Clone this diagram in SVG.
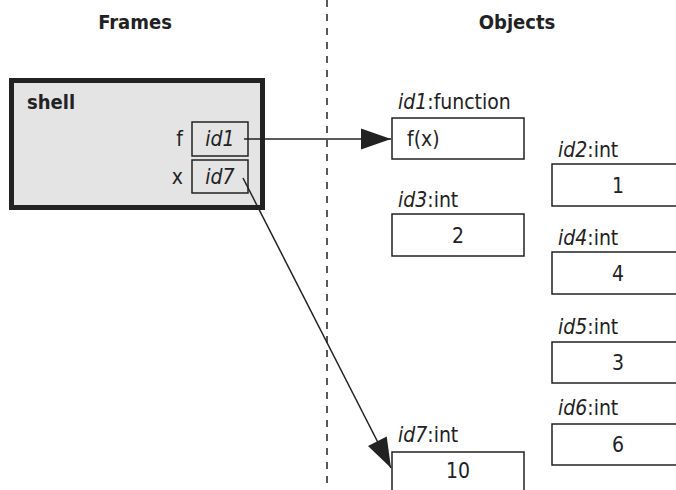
<svg xmlns="http://www.w3.org/2000/svg" width="676" height="490" viewBox="0 0 676 490">
<defs>
<style>
text{font-family:"DejaVu Sans Condensed","DejaVu Sans","Liberation Sans",sans-serif;font-stretch:condensed;font-size:21px;fill:#222}
.b{font-weight:bold;font-size:20px}
.i{font-style:italic}
.m{text-anchor:middle}
.e{text-anchor:end}
.box{fill:#fff;stroke:#222;stroke-width:1.5}
.sbox{fill:none;stroke:#222;stroke-width:1.5}
.con{stroke:#222;stroke-width:1.5;fill:none;marker-end:url(#ah)}
</style>
<marker id="ah" markerUnits="userSpaceOnUse" markerWidth="30" markerHeight="22" refX="30" refY="10.5" orient="auto" overflow="visible">
<path d="M0,0 L30,10.5 L0,21 z" fill="#222"/>
</marker>
</defs>
<rect width="676" height="490" fill="#fff"/>
<text class="b m" x="135" y="29">Frames</text>
<text class="b m" x="517" y="29">Objects</text>
<line x1="327" y1="0" x2="327" y2="490" stroke="#222" stroke-width="1.5" stroke-dasharray="7 7"/>
<g id="shell">
<rect x="11.5" y="80.5" width="251" height="127" fill="#e4e4e4" stroke="#222" stroke-width="5"/>
<text class="b" x="27" y="109">shell</text>
<text class="e" x="183" y="146">f</text>
<rect class="sbox" x="192" y="122" width="56" height="34"/>
<text class="i m" x="220" y="146">id1</text>
<text class="e" x="183" y="184">x</text>
<rect class="sbox" x="192" y="160" width="56" height="33"/>
<text class="i m" x="220" y="184">id7</text>
</g>
<g id="id1">
<text x="398" y="109"><tspan class="i">id1</tspan>:function</text>
<rect class="box" x="392" y="118" width="132" height="41"/>
<text x="407" y="146">f(x)</text>
</g>
<g id="id2">
<text x="558" y="157"><tspan class="i">id2</tspan>:int</text>
<rect class="box" x="552" y="164" width="132" height="42"/>
<text class="m" x="618" y="193">1</text>
</g>
<g id="id3">
<text x="398" y="207"><tspan class="i">id3</tspan>:int</text>
<rect class="box" x="392" y="214" width="132" height="42"/>
<text class="m" x="458" y="243">2</text>
</g>
<g id="id4">
<text x="558" y="245"><tspan class="i">id4</tspan>:int</text>
<rect class="box" x="552" y="252" width="132" height="42"/>
<text class="m" x="618" y="281">4</text>
</g>
<g id="id5">
<text x="558" y="334"><tspan class="i">id5</tspan>:int</text>
<rect class="box" x="552" y="342" width="132" height="41"/>
<text class="m" x="618" y="370">3</text>
</g>
<g id="id6">
<text x="558" y="415"><tspan class="i">id6</tspan>:int</text>
<rect class="box" x="552" y="424" width="132" height="41"/>
<text class="m" x="618" y="452">6</text>
</g>
<g id="id7">
<text x="398" y="442"><tspan class="i">id7</tspan>:int</text>
<rect class="box" x="392" y="452" width="132" height="50"/>
<text class="m" x="458" y="478">10</text>
</g>
<g id="connectors">
<line class="con" x1="244" y1="139" x2="391" y2="139"/>
<line class="con" x1="243" y1="178" x2="391" y2="468"/>
</g>
</svg>
